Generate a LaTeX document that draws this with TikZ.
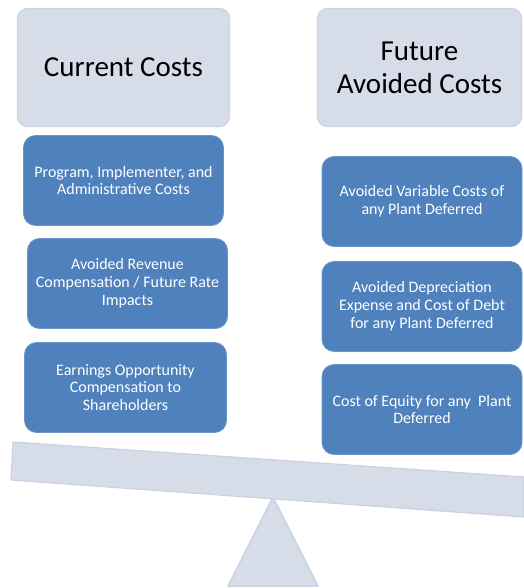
\documentclass[tikz,border=0pt]{standalone}
\usepackage{fontspec}
\setmainfont{Carlito}
\usetikzlibrary{positioning}

\definecolor{paleblue}{HTML}{D6DCE8}
\definecolor{paleedge}{HTML}{CBD3E3}
\definecolor{boxblue}{HTML}{4F81BD}
\definecolor{boxedge}{HTML}{6C95C8}

\tikzset{
  header/.style={draw=paleedge, fill=paleblue, line width=1.2pt,
    rounded corners=10pt, minimum height=118pt, align=center,
    font=\fontsize{29}{33}\selectfont},
  costbox/.style={draw=boxedge, fill=boxblue, text=white, line width=0.8pt,
    rounded corners=12pt, minimum width=200pt, minimum height=90pt,
    align=center, inner sep=2pt, font=\fontsize{16}{17.8}\selectfont},
}

\begin{document}
\begin{tikzpicture}[x=1pt, y=-1pt]
\useasboundingbox (0,0) rectangle (523,588);

% the two sides of the scale
\node[header, minimum width=212pt] (current) at (123.5,67.5) {Current Costs};
\node[header, minimum width=204pt] (future) at (419.5,67.5) {Future\\Avoided Costs};

% left pan
\node[costbox] (program) at (123.5,180.5)
{Program, Implementer, and\\
Administrative Costs};
\node[costbox] (revenue) at (127.5,283.5)
{Avoided Revenue\\
Compensation / Future Rate\\
Impacts};
\node[costbox, minimum width=202pt] (earnings) at (125.5,387.5)
{Earnings Opportunity\\
Compensation to\\
Shareholders};

% right pan
\node[costbox] (variable) at (422,201.5)
{Avoided Variable Costs of\\
any Plant Deferred};
\node[costbox] (depreciation) at (422,306.5)
{Avoided Depreciation\\
Expense and Cost of Debt\\
for any Plant Deferred};
\node[costbox] (equity) at (422,409.5)
{Cost of Equity for any \ Plant\\
Deferred};

% fulcrum and tilted beam
\coordinate (apex) at (273,497);
\filldraw[draw=paleedge, fill=paleblue, line width=1.5pt, line join=round]
  (apex) -- (318,586) -- (228,586) -- cycle;
\filldraw[draw=paleedge, fill=paleblue, line width=1.2pt, line join=round]
  (13,442) -- (524,477) -- (524,517) -- (11,480) -- cycle;
\end{tikzpicture}
\end{document}
